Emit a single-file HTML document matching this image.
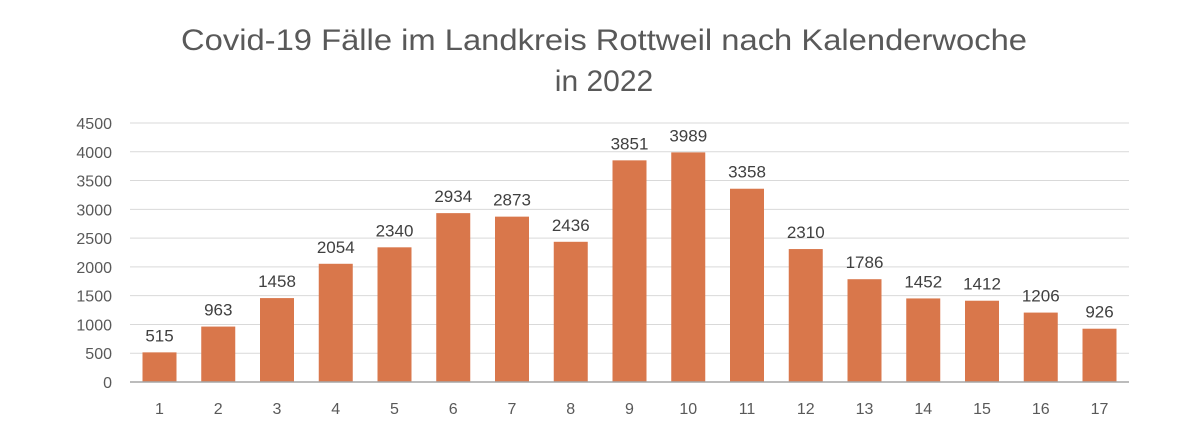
<!DOCTYPE html>
<html><head><meta charset="utf-8"><style>
body{margin:0;background:#fff;}
svg{display:block;font-family:"Liberation Sans",sans-serif;}
</style></head><body>
<svg width="1200" height="434" viewBox="0 0 1200 434" xmlns="http://www.w3.org/2000/svg">
<rect width="1200" height="434" fill="#fff"/>
<text x="604" y="50" text-anchor="middle" font-size="30" fill="#595959" textLength="846" lengthAdjust="spacingAndGlyphs">Covid-19 Fälle im Landkreis Rottweil nach Kalenderwoche</text>
<text x="604" y="91" text-anchor="middle" font-size="30" fill="#595959">in 2022</text>
<g id="grid" stroke="#d9d9d9" stroke-width="1"></g>
<g id="bars"></g>
<line x1="130" y1="382" x2="1129" y2="382" stroke="#a6a6a6" stroke-width="1.5"/>
<g id="yl" font-size="16" fill="#595959" text-anchor="end"></g>
<g id="xl" font-size="16" fill="#595959" text-anchor="middle"></g>
<g id="dl" font-size="17" fill="#404040" text-anchor="middle"></g>
</svg>
<script>
const ns="http://www.w3.org/2000/svg";
const d=[515,963,1458,2054,2340,2934,2873,2436,3851,3989,3358,2310,1786,1452,1412,1206,926];
const y0=382,k=(382-123)/4500;
function el(p,t,a,txt){const e=document.createElementNS(ns,t);for(const x in a)e.setAttribute(x,a[x]);if(txt!=null)e.textContent=txt;document.getElementById(p).appendChild(e);}
for(let v=0;v<=4500;v+=500){const y=y0-v*k;if(v>0)el("grid","line",{x1:130,x2:1129,y1:y,y2:y});el("yl","text",{x:112,y:y+6},v);}
d.forEach((v,i)=>{const cx=159.5+i*58.75,h=v*k;el("bars","rect",{x:cx-17,y:y0-h,width:34,height:h,fill:"#d9774b"});
el("xl","text",{x:cx,y:414},i+1);el("dl","text",{x:cx,y:y0-h-11},v);});
</script>
</body></html>
